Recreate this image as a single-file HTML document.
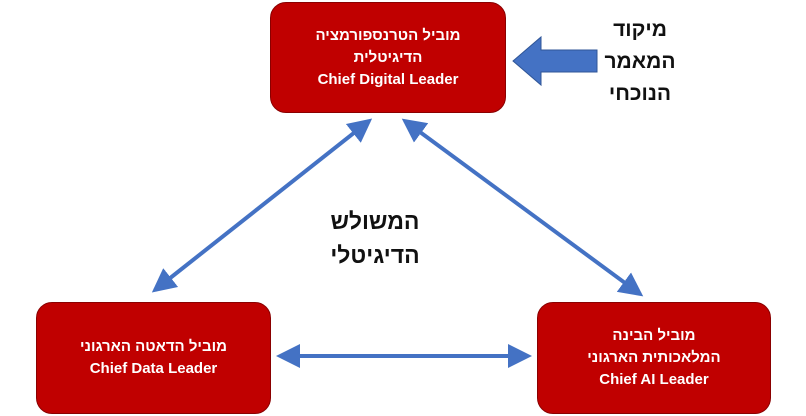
<!DOCTYPE html>
<html><head><meta charset="utf-8"><style>
body{margin:0;width:806px;height:416px;background:#fff;position:relative;overflow:hidden;font-family:"Liberation Sans","Noto Sans CJK JP",sans-serif}
.box{position:absolute;background:#c00000;border:1.5px solid #8a0000;border-radius:16px;color:#fff;font-weight:bold;font-size:15px;line-height:22px;text-align:center;display:flex;flex-direction:column;justify-content:center;box-sizing:border-box}
.t{position:absolute;font-weight:bold;color:#111;text-align:center;direction:rtl}
</style></head><body>
<svg width="806" height="416" style="position:absolute;left:0;top:0">
<defs><marker id="a" markerWidth="6" markerHeight="6" refX="5" refY="3" orient="auto-start-reverse" markerUnits="strokeWidth"><path d="M0,0 L6,3 L0,6 z" fill="#4472c4"/></marker></defs>
<g stroke="#4472c4" stroke-width="4" fill="none">
<line x1="369" y1="121" x2="155" y2="290" marker-start="url(#a)" marker-end="url(#a)"/>
<line x1="405" y1="121" x2="640" y2="294" marker-start="url(#a)" marker-end="url(#a)"/>
<line x1="280" y1="356" x2="528" y2="356" marker-start="url(#a)" marker-end="url(#a)"/>
</g>
<path d="M513,61 L541,37 L541,50 L597,50 L597,72 L541,72 L541,85 Z" fill="#4472c4" stroke="#2f5597" stroke-width="1"/>
</svg>
<div class="box" style="left:270px;top:2px;width:236px;height:111px"><div dir="rtl">מוביל הטרנספורמציה</div><div dir="rtl">הדיגיטלית</div><div>Chief Digital Leader</div></div>
<div class="box" style="left:36px;top:302px;width:235px;height:112px"><div dir="rtl">מוביל הדאטה הארגוני</div><div>Chief Data Leader</div></div>
<div class="box" style="left:537px;top:302px;width:234px;height:112px"><div dir="rtl">מוביל הבינה</div><div dir="rtl">המלאכותית הארגוני</div><div>Chief AI Leader</div></div>
<div class="t" style="left:295px;top:204px;width:160px;font-size:23px;line-height:34px">המשולש<br>הדיגיטלי</div>
<div class="t" style="left:590px;top:14px;width:100px;font-size:21px;line-height:32px">מיקוד<br>המאמר<br>הנוכחי</div>
</body></html>
